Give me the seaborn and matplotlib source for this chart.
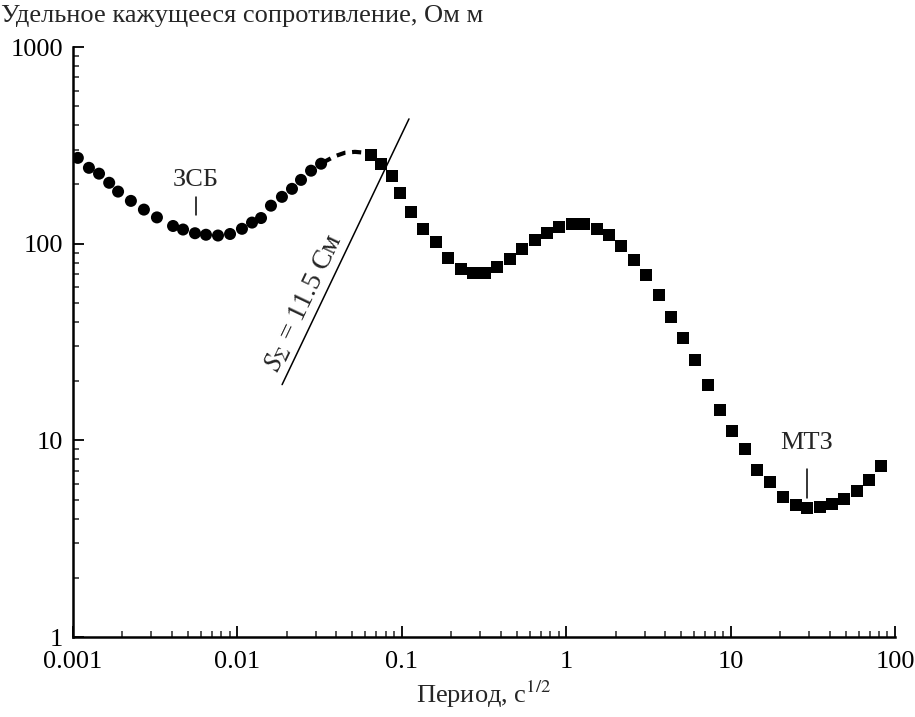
import numpy as np
import matplotlib
matplotlib.use("Agg")
import matplotlib.pyplot as plt
import matplotlib.ticker as mticker
import seaborn as sns
import pandas as pd

# ЗСБ (circles)
tem_period = [0.00107, 0.00125, 0.00144, 0.00166, 0.00188, 0.00225, 0.0027, 0.00324,
              0.00406, 0.00467, 0.00552, 0.00644, 0.00762, 0.00902, 0.01066, 0.01227,
              0.01392, 0.0160, 0.01866, 0.02148, 0.02437, 0.02805, 0.03228]
tem_rho = [273, 243, 227, 204, 184, 165, 149, 136, 123, 118, 113, 111, 110, 112, 119, 128,
           135, 156, 173, 190, 211, 235, 255]

# dashed joining curve
join_period = [0.0330, 0.0390, 0.0451, 0.0519, 0.0597, 0.0650]
join_rho = [258, 278, 290, 293, 290, 283]

# МТЗ (squares)
mt_period = [0.065, 0.0747, 0.0871, 0.0975, 0.1137, 0.1345, 0.1614, 0.191, 0.229, 0.271,
             0.3206, 0.379, 0.455, 0.538, 0.646, 0.764, 0.904, 1.084, 1.28, 1.54, 1.82,
             2.15, 2.58, 3.05, 3.66, 4.34, 5.13, 6.07, 7.28, 8.61, 10.2, 12.2, 14.5, 17.4,
             20.8, 25.0, 29.2, 35.0, 41.4, 49.0, 58.7, 69.5, 82.2]
mt_rho = [283, 255, 221, 181, 145, 119, 102, 85, 74.6, 71.3, 71.3, 76.4, 83.9, 94.3, 104.8,
          113.7, 122, 126.3, 126.3, 119, 111, 97.7, 82.9, 69.6, 55.1, 42.6, 33.0, 25.5, 19.2,
          14.2, 11.2, 9.0, 7.04, 6.12, 5.14, 4.68, 4.52, 4.6, 4.73, 5.02, 5.51, 6.26, 7.38]

# S line
s_period = [0.0187, 0.1106]
s_rho = [19.2, 431]

x_ticks = [0.001, 0.01, 0.1, 1, 10, 100]
x_labels = ["0.001", "0.01", "0.1", "1", "10", "100"]
y_ticks = [1, 10, 100, 1000]
y_labels = ["1", "10", "100", "1000"]

sns.set_style("ticks")
plt.rcParams["font.family"] = ["Liberation Serif", "DejaVu Serif"]
plt.rcParams["mathtext.fontset"] = "stix"

FS = 19

fig = plt.figure(figsize=(9.15, 7.17), dpi=100)
ax = fig.add_axes([73 / 915, 1 - 637 / 717, 822 / 915, 590 / 717])

tem_df = pd.DataFrame({"period": tem_period, "rho": tem_rho})
mt_df = pd.DataFrame({"period": mt_period, "rho": mt_rho})

ax.plot(join_period, join_rho, color="black", lw=3, ls=(0, (2.2, 1.6)))
ax.plot(s_period, s_rho, color="black", lw=1.1)
sns.scatterplot(data=tem_df, x="period", y="rho", marker="o", s=75, color="black",
                edgecolor="none", ax=ax)
sns.scatterplot(data=mt_df, x="period", y="rho", marker="s", s=75, color="black",
                edgecolor="none", ax=ax)

ax.set_xscale("log")
ax.set_yscale("log")
ax.set_xlim(0.001, 100)
ax.set_ylim(1, 1000)

ax.set_xticks(x_ticks)
ax.set_xticklabels(x_labels)
ax.set_yticks(y_ticks)
ax.set_yticklabels(y_labels)
ax.xaxis.set_minor_locator(mticker.LogLocator(base=10, subs=np.arange(2, 10)))
ax.yaxis.set_minor_locator(mticker.LogLocator(base=10, subs=np.arange(2, 10)))
ax.xaxis.set_minor_formatter(mticker.NullFormatter())
ax.yaxis.set_minor_formatter(mticker.NullFormatter())
ax.tick_params(which="major", direction="in", length=8, width=1.3, labelsize=FS,
               colors="black")
ax.tick_params(which="minor", direction="in", length=4.5, width=1.1)
ax.tick_params(axis="y", which="major", pad=7)
ax.tick_params(axis="x", which="major", pad=10)

for side in ["top", "right"]:
    ax.spines[side].set_visible(False)
for side in ["left", "bottom"]:
    ax.spines[side].set_linewidth(1.8)
    ax.spines[side].set_color("black")

ax.set_xlabel("Период, с$^{1/2}$", fontsize=FS, labelpad=4)
ax.set_ylabel("")
fig.text(0.001, 0.993, "Удельное кажущееся сопротивление, Ом м", fontsize=FS,
         ha="left", va="top")

# annotations
ax.text(0.0056, 210, "ЗСБ", fontsize=FS, ha="center", va="center")
ax.plot([0.0056, 0.0056], [173, 140], color="black", lw=1.1)
ax.text(29.2, 9.7, "МТЗ", fontsize=FS, ha="center", va="center")
ax.plot([29.2, 29.2], [7.12, 5.08], color="black", lw=1.1)
ax.text(0.0255, 50, "$S_\\Sigma$ = 11.5 См", fontsize=20, rotation=64.5,
        rotation_mode="anchor", ha="center", va="center")

fig.savefig("out.png", dpi=100)
